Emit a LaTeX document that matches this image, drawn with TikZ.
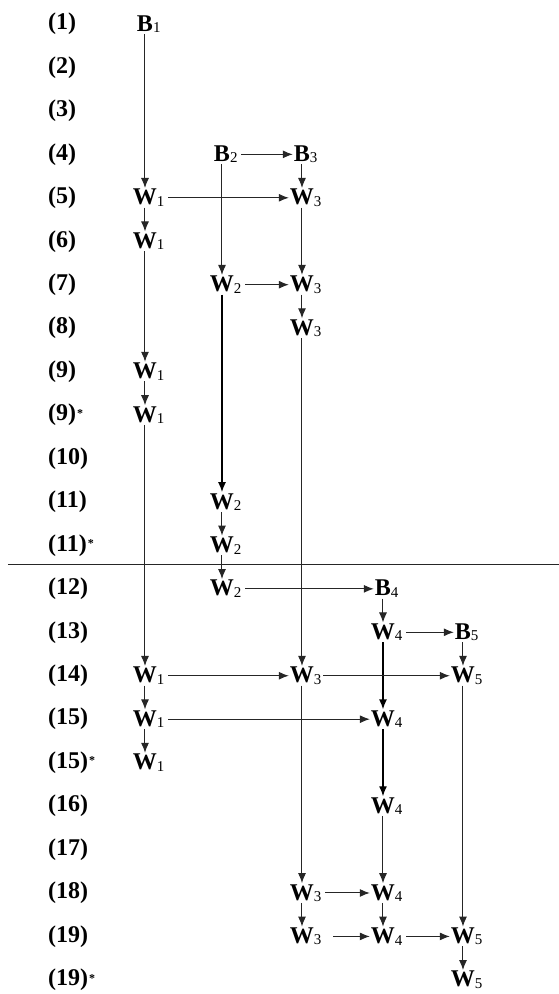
\documentclass[tikz,border=0pt]{standalone}
\usepackage{fontspec}
\setmainfont{Liberation Serif}
\usetikzlibrary{arrows.meta}
\newcommand{\ix}[1]{\rlap{\raisebox{-1.5pt}{\fontsize{15}{15}\selectfont\mdseries #1}}}
\newcommand{\rowstar}{\kern1pt\raisebox{3.5pt}{\fontsize{12}{12}\selectfont *}}

\begin{document}
\begin{tikzpicture}[x=1pt, y=-43.45pt,
    every node/.style={font=\fontsize{24}{24}\selectfont\bfseries, inner sep=1pt},
    flow/.style={draw=black!85, line width=1pt, -{Latex[length=10pt,width=8pt]}},
    side/.style={flow, shorten <=10pt},
    heavy/.style={flow, draw=black, line width=1.4pt}]
    \useasboundingbox (0,-0.5524) rectangle (559,22.325);

    % row numbers
    \foreach \lab [count=\i from 0] in {(1),(2),(3),(4),(5),(6),(7),(8),(9),(9)\rowstar,(10),(11),(11)\rowstar,(12),(13),(14),(15),(15)\rowstar,(16),(17),(18),(19),(19)\rowstar}
        \node[anchor=west] (r\i) at (47,\i) {\lab};

    % column 1
    \node (B1)  at (145,0)  {B\ix{1}};
    \node (W1a) at (145,4)  {W\ix{1}};
    \node (W1b) at (145,5)  {W\ix{1}};
    \node (W1c) at (145,8)  {W\ix{1}};
    \node (W1d) at (145,9)  {W\ix{1}};
    \node (W1e) at (145,15) {W\ix{1}};
    \node (W1f) at (145,16) {W\ix{1}};
    \node (W1g) at (145,17) {W\ix{1}};
    % column 2
    \node (B2)  at (222,3)  {B\ix{2}};
    \node (W2a) at (222,6)  {W\ix{2}};
    \node (W2b) at (222,11) {W\ix{2}};
    \node (W2c) at (222,12) {W\ix{2}};
    \node (W2d) at (222,13) {W\ix{2}};
    % column 3
    \node (B3)  at (302,3)  {B\ix{3}};
    \node (W3a) at (302,4)  {W\ix{3}};
    \node (W3b) at (302,6)  {W\ix{3}};
    \node (W3c) at (302,7)  {W\ix{3}};
    \node (W3d) at (302,15) {W\ix{3}};
    \node (W3e) at (302,20) {W\ix{3}};
    \node (W3f) at (302,21) {W\ix{3}};
    % column 4
    \node (B4)  at (383,13) {B\ix{4}};
    \node (W4a) at (383,14) {W\ix{4}};
    \node (W4b) at (383,16) {W\ix{4}};
    \node (W4c) at (383,18) {W\ix{4}};
    \node (W4d) at (383,20) {W\ix{4}};
    \node (W4e) at (383,21) {W\ix{4}};
    % column 5
    \node (B5)  at (463,14) {B\ix{5}};
    \node (W5a) at (463,15) {W\ix{5}};
    \node (W5b) at (463,21) {W\ix{5}};
    \node (W5c) at (463,22) {W\ix{5}};

    % separator
    \coordinate (sepL) at (8,12.451);
    \coordinate (sepR) at (559,12.451);
    \draw[line width=1pt, black!85] (sepL) -- (sepR);

    % vertical arrows
    \draw[flow] (B1) -- (W1a);
    \draw[flow] (W1a) -- (W1b);
    \draw[flow] (W1b) -- (W1c);
    \draw[flow] (W1c) -- (W1d);
    \draw[flow] (W1d) -- (W1e);
    \draw[flow] (W1e) -- (W1f);
    \draw[flow] (W1f) -- (W1g);
    \draw[flow] (B2) -- (W2a);
    \draw[heavy] (W2a) -- (W2b);
    \draw[flow] (W2b) -- (W2c);
    \draw[flow] (W2c) -- (W2d);
    \draw[flow] (B3) -- (W3a);
    \draw[flow] (W3a) -- (W3b);
    \draw[flow] (W3b) -- (W3c);
    \draw[flow] (W3c) -- (W3d);
    \draw[flow] (W3d) -- (W3e);
    \draw[flow] (W3e) -- (W3f);
    \draw[flow] (B4) -- (W4a);
    \draw[heavy] (W4a) -- (W4b);
    \draw[heavy] (W4b) -- (W4c);
    \draw[flow] (W4c) -- (W4d);
    \draw[flow] (W4d) -- (W4e);
    \draw[flow] (B5) -- (W5a);
    \draw[flow] (W5a) -- (W5b);
    \draw[flow] (W5b) -- (W5c);

    % horizontal arrows
    \draw[side] (B2.east) -- (B3.west);
    \draw[side] (W1a.east) -- (W3a.west);
    \draw[side] (W2a.east) -- (W3b.west);
    \draw[side] (W2d.east) -- (B4.west);
    \draw[side] (W4a.east) -- (B5.west);
    \draw[side] (W1e.east) -- (W3d.west);
    \draw[side, shorten <=8pt] (W3d.east) -- (W5a.west);
    \draw[side] (W1f.east) -- (W4b.west);
    \draw[side] (W3e.east) -- (W4d.west);
    \draw[side, shorten <=18pt] (W3f.east) -- (W4e.west);
    \draw[side] (W4e.east) -- (W5b.west);
\end{tikzpicture}
\end{document}
